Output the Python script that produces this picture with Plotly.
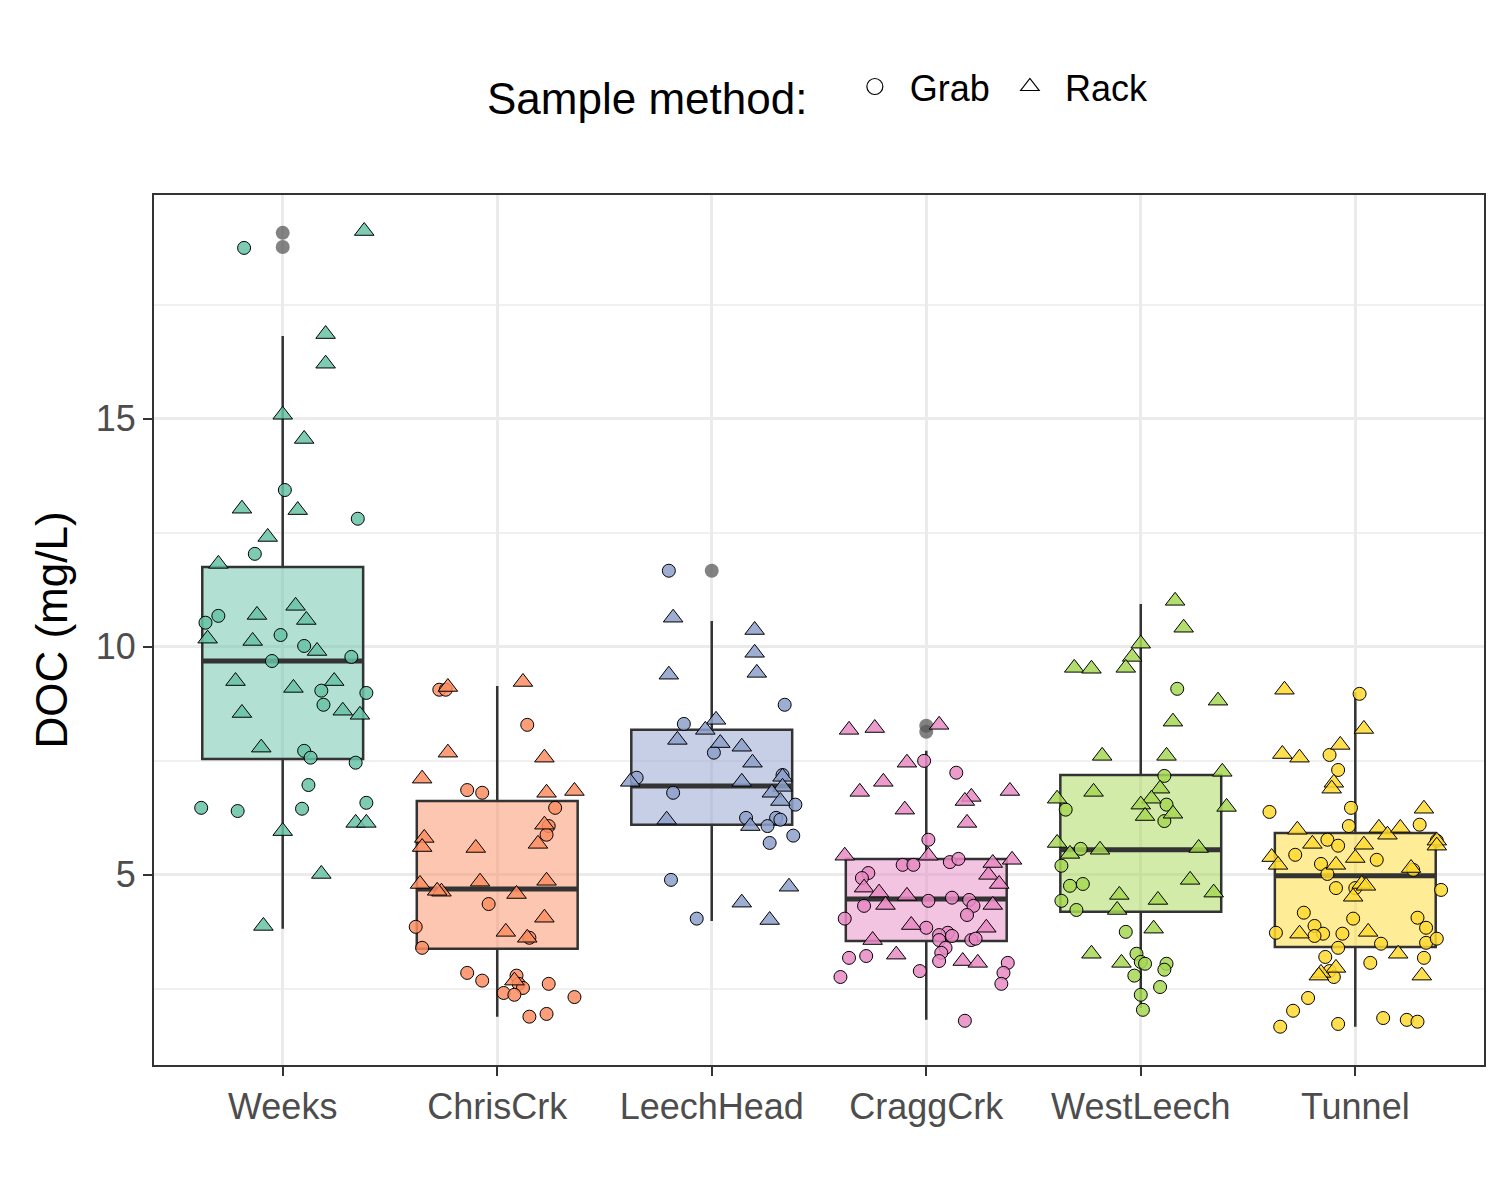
import plotly.graph_objects as go

sites = ["Weeks", "ChrisCrk", "LeechHead", "CraggCrk", "WestLeech", "Tunnel"]
colors = ["#66C2A5", "#FC8D62", "#8DA0CB", "#E78AC3", "#A6D854", "#FFD92F"]

# box statistics per site
q1 = [7.54, 3.38, 6.10, 3.55, 4.19, 3.42]
med = [9.69, 4.69, 6.95, 4.47, 5.55, 4.98]
q3 = [11.75, 6.62, 8.18, 5.35, 7.19, 5.92]
lo = [3.82, 1.89, 3.99, 1.82, 2.08, 1.67]
hi = [16.82, 9.14, 10.57, 7.72, 10.94, 9.01]
outlier_site = [0, 0, 2, 3, 3]
outlier_val = [19.08, 18.77, 11.67, 8.27, 8.14]

# DOC values (mg/L) and jitter offsets, per site and method
weeks_grab = [18.75, 6.47, 6.40, 12.04, 13.44, 10.68, 10.53, 10.26, 9.69, 10.02, 9.04, 8.73, 9.78, 12.81, 8.99, 7.72, 7.57, 6.97, 6.45, 7.46, 6.58]
weeks_grab_dx = [-0.18, -0.38, -0.21, -0.13, 0.01, -0.30, -0.36, -0.01, -0.05, 0.10, 0.18, 0.19, 0.32, 0.35, 0.39, 0.10, 0.13, 0.12, 0.09, 0.34, 0.39]
weeks_rack = [19.12, 16.86, 16.21, 15.09, 14.56, 13.03, 13.00, 12.41, 11.82, 10.18, 10.70, 10.13, 10.90, 10.59, 9.25, 9.10, 8.55, 9.91, 9.25, 8.60, 8.51, 7.79, 5.96, 6.14, 6.14, 5.02, 3.88]
weeks_rack_dx = [0.38, 0.20, 0.20, 0.00, 0.10, -0.19, 0.07, -0.07, -0.30, -0.35, -0.12, -0.14, 0.06, 0.11, -0.22, 0.05, -0.19, 0.16, 0.24, 0.28, 0.36, -0.10, 0.00, 0.34, 0.39, 0.18, -0.09]

chris_grab = [9.06, 9.06, 6.86, 6.80, 8.29, 6.47, 6.07, 5.88, 3.86, 3.40, 4.36, 3.62, 2.85, 2.68, 2.79, 2.61, 2.52, 2.41, 2.37, 2.61, 2.32, 1.89, 1.95]
chris_grab_dx = [-0.27, -0.24, -0.14, -0.07, 0.14, 0.27, 0.24, 0.23, -0.38, -0.35, -0.04, 0.15, -0.14, -0.07, 0.09, 0.10, 0.12, 0.03, 0.08, 0.24, 0.36, 0.15, 0.23]
chris_rack = [9.12, 9.23, 7.68, 7.11, 5.81, 5.61, 4.80, 4.63, 4.65, 5.59, 4.85, 4.58, 6.10, 6.80, 7.57, 5.68, 4.87, 6.84, 3.75, 4.06, 3.62, 2.68]
chris_rack_dx = [-0.23, 0.12, -0.23, -0.35, -0.34, -0.35, -0.36, -0.26, -0.28, -0.10, -0.08, 0.09, 0.22, 0.23, 0.22, 0.19, 0.23, 0.36, 0.04, 0.22, 0.14, 0.08]

leech_grab = [11.67, 8.31, 7.68, 7.13, 6.80, 7.19, 8.73, 6.25, 6.25, 6.07, 6.21, 6.54, 5.86, 5.70, 4.89, 4.04]
leech_grab_dx = [-0.20, -0.13, 0.01, -0.35, -0.18, 0.33, 0.34, 0.16, 0.30, 0.26, 0.32, 0.39, 0.38, 0.27, -0.19, -0.07]
leech_rack = [10.64, 9.39, 10.37, 9.87, 9.43, 8.40, 8.18, 7.96, 7.89, 7.81, 7.46, 7.15, 6.93, 7.04, 6.80, 7.04, 6.21, 6.07, 6.62, 4.74, 4.39, 4.01]
leech_rack_dx = [-0.18, -0.20, 0.20, 0.20, 0.21, 0.02, -0.03, -0.16, 0.04, 0.14, 0.19, 0.33, 0.33, 0.14, 0.28, -0.38, -0.21, 0.18, 0.32, 0.36, 0.14, 0.27]

cragg_grab = [7.50, 7.24, 5.77, 5.22, 5.22, 5.04, 4.93, 5.28, 5.35, 4.45, 4.50, 4.43, 4.32, 4.12, 3.84, 3.73, 3.68, 3.66, 3.57, 3.40, 3.57, 3.60, 4.32, 4.04, 3.18, 3.22, 3.29, 3.11, 2.89, 3.07, 2.85, 2.61, 2.76, 1.80]
cragg_grab_dx = [-0.01, 0.14, 0.01, -0.11, -0.06, -0.27, -0.30, 0.11, 0.15, 0.20, 0.12, 0.01, 0.22, 0.19, 0.00, 0.10, 0.06, 0.12, 0.06, 0.09, 0.21, 0.23, -0.29, -0.38, -0.36, -0.28, 0.07, 0.06, -0.03, 0.38, 0.36, 0.35, -0.40, 0.18]
cragg_rack = [8.18, 8.22, 8.29, 6.82, 7.04, 6.43, 7.46, 6.71, 6.62, 6.14, 6.84, 5.42, 4.72, 4.61, 4.54, 4.34, 5.42, 5.00, 5.26, 5.33, 4.80, 4.34, 3.90, 3.57, 3.25, 3.11, 3.07, 3.84]
cragg_rack_dx = [-0.36, -0.24, 0.06, -0.31, -0.20, -0.10, -0.09, 0.21, 0.18, 0.19, 0.39, -0.38, -0.29, -0.22, -0.09, -0.19, 0.01, 0.29, 0.31, 0.40, 0.34, 0.31, -0.07, -0.25, -0.14, 0.17, 0.24, 0.28]

west_grab = [9.08, 7.17, 6.54, 6.18, 6.43, 5.57, 5.20, 4.76, 4.80, 4.43, 4.23, 3.75, 3.27, 3.09, 3.05, 3.05, 2.92, 2.79, 2.54, 2.37, 2.04]
west_grab_dx = [0.17, 0.11, 0.12, 0.11, -0.35, -0.28, -0.37, -0.33, -0.27, -0.37, -0.30, -0.07, -0.02, 0.00, 0.02, 0.12, 0.11, -0.03, 0.09, 0.00, 0.01]
west_rack = [11.01, 10.42, 10.07, 9.78, 9.54, 9.54, 9.52, 8.82, 8.36, 7.61, 7.61, 7.26, 6.82, 6.89, 6.67, 6.54, 6.34, 6.49, 6.67, 6.29, 5.70, 5.46, 5.55, 5.59, 4.89, 4.61, 4.56, 4.45, 4.23, 3.82, 3.27, 3.07]
west_rack_dx = [0.16, 0.20, 0.00, -0.04, -0.07, -0.31, -0.23, 0.36, 0.15, -0.18, 0.12, 0.38, -0.22, 0.09, 0.05, 0.00, 0.15, 0.40, -0.39, 0.02, -0.39, -0.33, -0.19, 0.27, 0.23, 0.34, -0.10, 0.08, -0.11, 0.06, -0.23, -0.09]

tunnel_grab = [8.97, 7.63, 7.30, 6.38, 6.47, 5.44, 5.24, 5.77, 5.64, 6.07, 5.02, 4.71, 5.33, 5.11, 6.10, 5.75, 4.17, 4.71, 3.88, 3.73, 3.71, 3.71, 3.40, 3.20, 2.89, 2.76, 3.07, 3.49, 3.84, 3.51, 4.67, 3.60, 3.18, 2.30, 2.02, 1.67, 1.73, 1.86, 1.82, 1.78, 3.66, 4.06, 4.04]
tunnel_grab_dx = [0.02, -0.12, -0.08, -0.40, -0.02, -0.28, -0.16, -0.13, -0.08, -0.03, -0.13, 0.00, 0.10, 0.27, 0.30, 0.38, -0.24, -0.09, -0.19, -0.37, -0.15, -0.06, -0.08, -0.14, -0.12, -0.10, 0.07, 0.12, 0.33, 0.33, 0.40, 0.38, 0.32, -0.22, -0.29, -0.35, -0.08, 0.13, 0.24, 0.29, -0.19, 0.29, -0.01]
tunnel_rack = [9.06, 8.20, 7.85, 7.65, 7.57, 7.02, 6.89, 5.99, 5.66, 6.03, 5.88, 6.03, 6.45, 5.75, 5.39, 5.22, 5.68, 5.22, 5.37, 5.15, 4.80, 4.76, 4.52, 5.64, 3.27, 2.85, 2.96, 2.79, 2.79, 3.75, 3.71]
tunnel_rack_dx = [-0.33, 0.04, -0.07, -0.34, -0.26, -0.10, -0.11, -0.27, 0.04, 0.11, 0.15, 0.21, 0.32, 0.38, -0.39, -0.36, -0.20, -0.09, 0.00, 0.26, 0.03, 0.05, -0.01, 0.38, 0.20, -0.16, -0.09, -0.17, 0.31, 0.06, -0.26]

grab = [weeks_grab, chris_grab, leech_grab, cragg_grab, west_grab, tunnel_grab]
grab_dx = [weeks_grab_dx, chris_grab_dx, leech_grab_dx, cragg_grab_dx, west_grab_dx, tunnel_grab_dx]
rack = [weeks_rack, chris_rack, leech_rack, cragg_rack, west_rack, tunnel_rack]
rack_dx = [weeks_rack_dx, chris_rack_dx, leech_rack_dx, cragg_rack_dx, west_rack_dx, tunnel_rack_dx]


def rgba(h, a):
    h = h.lstrip("#")
    return "rgba(%d,%d,%d,%s)" % (int(h[0:2], 16), int(h[2:4], 16), int(h[4:6], 16), a)


fig = go.Figure()
dark = "#333333"
bw = 0.75

for i, s in enumerate(sites):
    fig.add_trace(go.Box(
        x=[i], q1=[q1[i]], median=[med[i]], q3=[q3[i]],
        lowerfence=[lo[i]], upperfence=[hi[i]],
        width=bw, whiskerwidth=0, fillcolor=rgba(colors[i], 0.5),
        line=dict(color=dark, width=2.5), boxpoints=False, showlegend=False,
        hoverinfo="skip"))
    fig.add_trace(go.Scatter(
        x=[i - bw / 2, i + bw / 2], y=[med[i], med[i]], mode="lines",
        line=dict(color=dark, width=5), showlegend=False, hoverinfo="skip"))

# boxplot outliers
fig.add_trace(go.Scatter(
    x=outlier_site, y=outlier_val, mode="markers",
    marker=dict(color="rgba(90,90,90,0.75)", size=14), showlegend=False))

for i, s in enumerate(sites):
    fig.add_trace(go.Scatter(
        x=[i + d for d in grab_dx[i]], y=grab[i], mode="markers",
        marker=dict(symbol="circle", size=13, color=rgba(colors[i], 0.85),
                    line=dict(color="black", width=1)),
        showlegend=False))
    fig.add_trace(go.Scatter(
        x=[i + d for d in rack_dx[i]], y=rack[i], mode="markers",
        marker=dict(symbol="triangle-up", size=17, color=rgba(colors[i], 0.85),
                    line=dict(color="black", width=1)),
        showlegend=False))

# legend keys
fig.add_trace(go.Scatter(x=[None], y=[None], mode="markers", name="Grab",
                         marker=dict(symbol="circle-open", size=24, color="black", line=dict(width=1.2))))
fig.add_trace(go.Scatter(x=[None], y=[None], mode="markers", name="Rack",
                         marker=dict(symbol="triangle-up-open", size=30, color="black", line=dict(width=1.2))))

fig.update_layout(
    width=1500, height=1200, plot_bgcolor="white", paper_bgcolor="white",
    font=dict(family="Liberation Sans, Arial", size=34, color="black"),
    margin=dict(l=146, r=24, t=187, b=143, autoexpand=False),
    legend=dict(orientation="h", x=0.5, xanchor="center", y=1.12, yanchor="middle",
                title=dict(text="Sample method:  ", font=dict(size=44)),
                font=dict(size=36), itemwidth=60),
    xaxis=dict(range=[-0.6, 5.6], tickvals=list(range(6)), ticktext=sites,
               showgrid=True, gridcolor="#EBEBEB", gridwidth=2.5, zeroline=False,
               showline=True, linecolor=dark, linewidth=2, mirror=True,
               ticks="outside", ticklen=9, tickwidth=2, tickcolor=dark,
               tickfont=dict(size=36, color="#4D4D4D")),
    yaxis=dict(range=[0.83, 19.91], tickvals=[5, 10, 15],
               showgrid=True, gridcolor="#EBEBEB", gridwidth=2.5, zeroline=False,
               minor=dict(tickvals=[2.5, 7.5, 12.5, 17.5], showgrid=True,
                          gridcolor="#F0F0F0", gridwidth=1.8),
               showline=True, linecolor=dark, linewidth=2, mirror=True,
               ticks="outside", ticklen=9, tickwidth=2, tickcolor=dark,
               tickfont=dict(size=36, color="#4D4D4D"),
               title=dict(text="DOC (mg/L)", font=dict(size=44), standoff=14)),
)

fig.write_html("out.html")
